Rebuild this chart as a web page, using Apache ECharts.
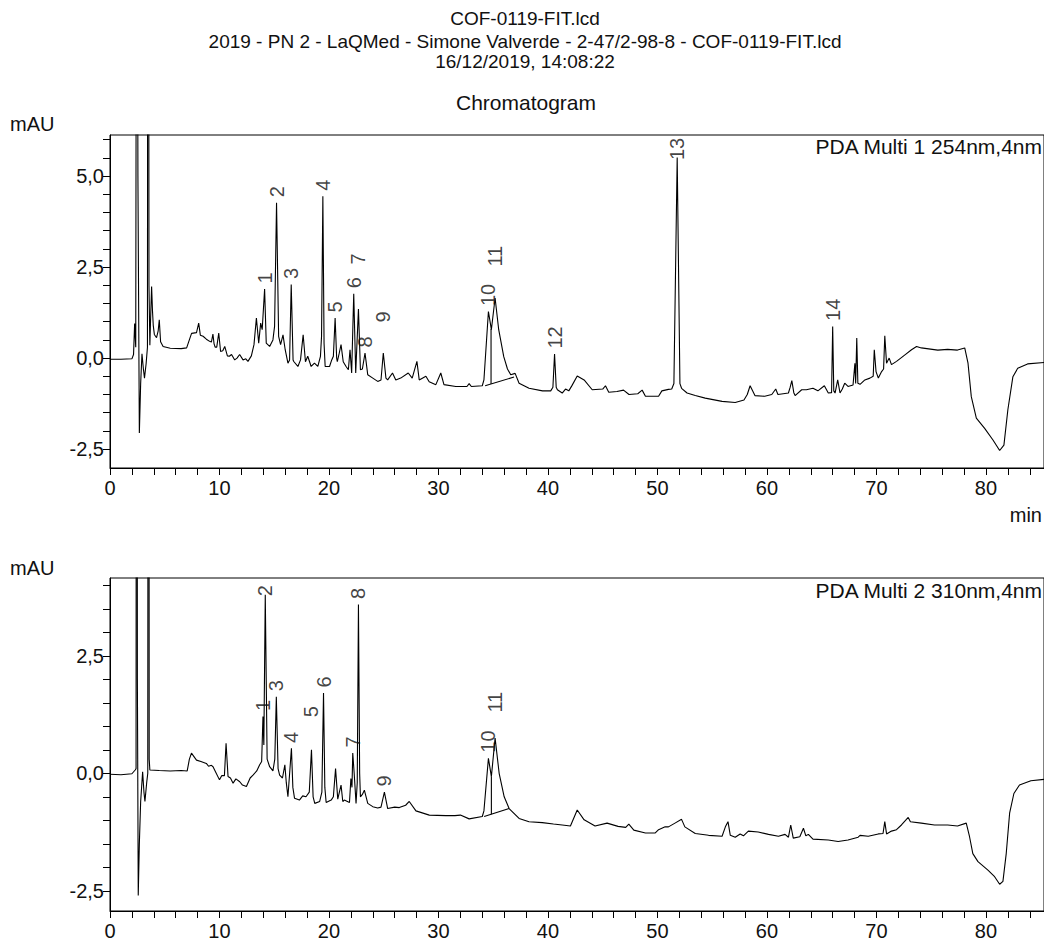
<!DOCTYPE html>
<html><head><meta charset="utf-8">
<script src="https://cdn.jsdelivr.net/npm/echarts@6/dist/echarts.min.js"></script>
<style>html,body{margin:0;padding:0;background:#fff}#c{width:1044px;height:944px}</style>
</head><body><div id="c"></div>
<script>
const titleLines = ['COF-0119-FIT.lcd', '2019 - PN 2 - LaQMed - Simone Valverde - 2-47/2-98-8 - COF-0119-FIT.lcd', '16/12/2019, 14:08:22'];
const subTitle = 'Chromatogram';
const channelNames = ['PDA Multi 1 254nm,4nm', 'PDA Multi 2 310nm,4nm'];
const yUnit = 'mAU';
const xUnit = 'min';

const xTickValues = [0,2,4,6,8,10,12,14,16,18,20,22,24,26,28,30,32,34,36,38,40,42,44,46,48,50,52,54,56,58,60,62,64,66,68,70,72,74,76,78,80,82,84];
const xLabelValues = [0,10,20,30,40,50,60,70,80];
const yTicks254 = [-2.5,-2,-1.5,-1,-0.5,0,0.5,1,1.5,2,2.5,3,3.5,4,4.5,5,5.5,6];
const yLabels254 = [-2.5,0,2.5,5];
const yTicks310 = [-2.5,-2,-1.5,-1,-0.5,0,0.5,1,1.5,2,2.5,3,3.5,4];
const yLabels310 = [-2.5,0,2.5];

const trace254 = [[0,-0.03],[1.0,-0.03],[2.0,-0.02],[2.15,0.1],[2.25,0.95],[2.35,0.3],[2.45,20],[2.55,5],[2.68,-2.06],[2.8,-0.7],[2.92,0.12],[3.05,-0.3],[3.15,-0.55],[3.3,-0.15],[3.42,0.3],[3.48,30],[3.56,2],[3.64,0.35],[3.72,1.2],[3.8,1.97],[3.88,1.3],[3.95,0.9],[4.05,0.65],[4.25,0.56],[4.4,0.75],[4.5,1.05],[4.62,0.45],[4.85,0.32],[5.5,0.27],[6.5,0.26],[7.0,0.28],[7.3,0.55],[7.45,0.68],[7.9,0.7],[8.1,0.96],[8.25,0.63],[8.5,0.6],[8.8,0.52],[9.1,0.46],[9.26,0.44],[9.4,0.66],[9.5,0.4],[9.6,0.3],[9.75,0.3],[9.93,0.69],[10.1,0.18],[10.3,0.2],[10.48,0.32],[10.72,0.06],[10.9,0.05],[11.1,0.1],[11.39,-0.05],[11.6,0.0],[11.84,0.1],[12.15,-0.05],[12.4,-0.02],[12.6,-0.09],[12.91,0.06],[13.15,0.37],[13.37,1.1],[13.58,0.41],[13.76,0.96],[13.9,0.78],[14.12,1.9],[14.27,0.41],[14.58,0.32],[14.88,0.5],[15.03,0.87],[15.21,4.27],[15.4,0.6],[15.58,0.37],[15.8,0.64],[16.0,0.23],[16.25,-0.14],[16.4,-0.05],[16.55,2.02],[16.72,-0.05],[16.8,-0.1],[17.16,-0.23],[17.4,-0.05],[17.64,0.64],[17.85,-0.1],[18.06,0.05],[18.37,-0.23],[18.67,-0.14],[18.98,-0.23],[19.22,0.05],[19.32,0.6],[19.44,4.45],[19.55,0.4],[19.65,-0.23],[20.05,-0.23],[20.25,-0.05],[20.4,0.05],[20.56,1.1],[20.7,0.0],[20.76,-0.1],[20.94,0.14],[21.1,0.37],[21.3,-0.1],[21.56,-0.23],[21.77,-0.32],[21.92,0.23],[22.07,-0.41],[22.26,1.77],[22.44,-0.41],[22.69,1.35],[22.87,-0.32],[23.05,-0.3],[23.29,0.14],[23.54,-0.46],[24.0,-0.55],[24.45,-0.64],[24.75,-0.6],[24.96,0.14],[25.2,-0.55],[25.36,-0.6],[25.8,-0.41],[26.1,-0.6],[26.55,-0.55],[27.24,-0.41],[27.6,-0.55],[28.03,-0.09],[28.24,-0.6],[28.85,-0.5],[29.15,-0.65],[29.76,-0.73],[30.21,-0.41],[30.5,-0.73],[31.58,-0.78],[32.6,-0.78],[32.8,-0.7],[33.0,-0.78],[34.0,-0.76],[34.15,-0.6],[34.56,1.28],[34.83,0.78],[35.17,1.65],[35.5,0.78],[35.96,0.04],[36.3,-0.3],[36.6,-0.46],[37.0,-0.42],[37.36,-0.69],[38.27,-0.83],[39.5,-0.9],[40.25,-0.9],[40.45,-0.8],[40.6,0.11],[40.75,-0.8],[40.86,-0.87],[41.3,-0.96],[41.6,-0.85],[41.9,-0.9],[42.2,-0.75],[42.67,-0.49],[43.3,-0.6],[44.04,-0.87],[45.0,-0.85],[45.25,-0.76],[45.55,-0.94],[46.3,-0.92],[46.9,-0.88],[47.4,-1.0],[48.2,-0.98],[48.6,-0.88],[48.9,-1.05],[50.1,-1.05],[50.4,-0.9],[51.0,-0.86],[51.3,-0.85],[51.5,-0.7],[51.8,5.51],[52.05,-0.7],[52.2,-0.83],[52.7,-0.96],[53.45,-1.03],[54.36,-1.1],[55.9,-1.19],[57.1,-1.22],[57.9,-1.15],[58.2,-1.0],[58.46,-0.76],[58.9,-1.03],[59.8,-1.05],[60.44,-1.0],[60.8,-0.85],[61.0,-1.0],[61.96,-0.96],[62.12,-0.8],[62.27,-0.62],[62.45,-0.95],[62.57,-1.03],[63.17,-0.87],[63.6,-0.87],[64.2,-0.83],[64.65,-0.9],[65.24,-0.76],[65.6,-0.96],[65.9,-0.95],[66.0,0.87],[66.1,-0.9],[66.22,-0.96],[66.46,-0.6],[66.67,-0.96],[66.88,-0.85],[67.1,-0.69],[67.4,-0.78],[67.86,-0.74],[68.03,-0.14],[68.1,-0.7],[68.2,0.55],[68.3,-0.69],[68.5,-0.72],[68.94,-0.6],[69.4,-0.55],[69.7,-0.5],[69.8,0.23],[69.96,-0.37],[70.17,-0.55],[70.47,-0.37],[70.65,-0.3],[70.76,0.61],[70.92,-0.14],[71.16,0.0],[71.37,-0.18],[71.83,-0.09],[72.6,0.09],[73.2,0.23],[73.66,0.32],[74.1,0.28],[75.6,0.22],[76.5,0.24],[77.4,0.22],[78.06,0.28],[78.36,-0.14],[78.66,-1.06],[79.12,-1.65],[79.88,-1.93],[80.64,-2.25],[81.25,-2.54],[81.64,-2.39],[82.0,-1.42],[82.46,-0.51],[82.9,-0.28],[83.8,-0.16],[85.3,-0.12]];

const trace310 = [[0,-0.02],[1.0,-0.03],[2.0,-0.01],[2.3,0.07],[2.38,0.1],[2.43,30],[2.5,2],[2.58,-2.6],[2.68,-1.5],[2.8,-0.6],[2.98,0.03],[3.1,-0.4],[3.19,-0.6],[3.35,-0.2],[3.45,0.0],[3.52,30],[3.58,0.3],[3.64,0.07],[4.5,0.06],[5.5,0.05],[6.5,0.06],[7.05,0.05],[7.25,0.3],[7.44,0.43],[7.9,0.28],[8.3,0.25],[8.8,0.21],[9.0,0.15],[9.26,0.17],[9.41,0.14],[9.6,0.05],[10.0,-0.14],[10.2,-0.05],[10.45,-0.05],[10.6,0.64],[10.78,-0.07],[11.0,-0.1],[11.24,-0.21],[11.5,-0.12],[11.85,-0.18],[12.1,-0.25],[12.46,-0.28],[12.8,-0.1],[13.06,-0.04],[13.4,0.05],[13.67,0.18],[13.85,0.25],[13.97,1.21],[14.05,0.6],[14.18,3.8],[14.35,0.3],[14.58,0.14],[14.88,0.05],[15.05,0.3],[15.19,1.63],[15.35,0.1],[15.49,-0.04],[15.75,-0.1],[15.97,0.18],[16.1,-0.2],[16.25,-0.5],[16.57,0.53],[16.7,-0.3],[16.85,-0.53],[17.3,-0.57],[17.6,-0.48],[17.9,-0.5],[18.2,-0.4],[18.4,0.5],[18.55,-0.5],[18.7,-0.64],[19.15,-0.6],[19.35,-0.4],[19.5,1.71],[19.62,-0.3],[19.74,-0.62],[20.2,-0.57],[20.4,-0.5],[20.6,0.1],[20.8,-0.55],[21.1,-0.25],[21.26,-0.6],[21.4,-0.57],[21.87,-0.62],[22.0,-0.11],[22.1,-0.3],[22.17,0.43],[22.3,0.0],[22.47,-0.64],[22.58,-0.2],[22.69,3.59],[22.8,0.0],[22.87,-0.5],[23.05,-0.45],[23.23,-0.36],[23.54,-0.64],[24.0,-0.71],[24.45,-0.74],[24.75,-0.72],[25.06,-0.4],[25.36,-0.75],[26.0,-0.72],[26.42,-0.73],[27.0,-0.68],[27.33,-0.6],[27.94,-0.8],[29.16,-0.89],[30.67,-0.9],[31.5,-0.9],[32.0,-0.89],[32.8,-0.97],[34.0,-0.92],[34.15,-0.8],[34.56,0.32],[34.83,-0.07],[35.17,0.75],[35.54,0.0],[36.0,-0.5],[36.45,-0.75],[37.36,-0.96],[38.27,-1.03],[39.48,-1.05],[40.5,-1.08],[41.3,-1.1],[42.05,-1.12],[42.67,-0.78],[43.3,-0.99],[44.3,-1.12],[45.4,-1.06],[46.4,-1.13],[47.1,-1.15],[47.38,-1.08],[47.84,-1.21],[48.9,-1.27],[49.8,-1.27],[50.1,-1.2],[50.7,-1.14],[51.0,-1.14],[51.6,-1.06],[52.2,-0.98],[52.5,-1.14],[53.45,-1.28],[54.67,-1.32],[55.9,-1.34],[56.2,-1.14],[56.44,-1.03],[56.65,-1.32],[57.1,-1.36],[57.55,-1.29],[57.85,-1.33],[58.3,-1.23],[59.2,-1.25],[60.14,-1.3],[61.05,-1.34],[61.65,-1.3],[61.96,-1.36],[62.17,-1.1],[62.4,-1.38],[63.0,-1.35],[63.33,-1.17],[63.55,-1.33],[63.78,-1.3],[64.2,-1.4],[65.6,-1.42],[66.5,-1.45],[67.4,-1.42],[68.33,-1.36],[68.5,-1.32],[69.25,-1.34],[70.17,-1.29],[70.6,-1.28],[70.76,-1.03],[70.92,-1.29],[71.37,-1.23],[71.83,-1.2],[72.28,-1.1],[72.9,-0.94],[73.1,-1.03],[74.1,-1.06],[75.3,-1.1],[76.5,-1.1],[77.4,-1.12],[78.2,-1.06],[78.5,-1.35],[78.8,-1.71],[79.27,-1.88],[80.18,-2.06],[80.79,-2.2],[81.25,-2.36],[81.55,-2.3],[81.85,-1.71],[82.16,-0.85],[82.55,-0.43],[83.06,-0.25],[84.1,-0.16],[85.3,-0.13]];

const baseline254 = [[34.26,-0.76],[36.9,-0.52]];
const drop254 = [[34.8,0.8],[34.8,-0.71]];
const baseline310 = [[34.17,-0.92],[36.45,-0.75]];
const drop310 = [[34.83,-0.07],[34.83,-0.87]];

const peakNames254 = ['1','2','3','4','5','6','7','8','9','10','11','12','13','14'];
const peakTimes254 = [14.12,15.21,16.55,19.44,20.56,22.26,22.69,23.29,24.96,34.56,35.17,40.6,51.8,66.0];
const peakNames310 = ['1','2','3','4','5','6','7','8','9','10','11'];
const peakTimes310 = [13.97,14.18,15.19,16.57,18.4,19.5,22.17,22.69,25.06,34.56,35.17];

const FONT = '"Liberation Sans", Arial, sans-serif';
const TXT = '#111';

function valueAt(trace, t) {
  let best = trace[0];
  for (const p of trace) if (Math.abs(p[0] - t) < Math.abs(best[0] - t)) best = p;
  return best[1];
}
const fmtY = v => v.toFixed(1).replace('.', ',').replace('-0,0', '0,0');

function makeX(gi) {
  return {
    type: 'value', gridIndex: gi, min: 0, max: 85.3,
    axisLine: { show: true, onZero: false, lineStyle: { color: '#000', width: 1 } },
    axisTick: { show: true, length: 7, inside: false, lineStyle: { color: '#000' }, customValues: xTickValues },
    axisLabel: { show: true, customValues: xLabelValues, formatter: v => String(Math.round(v)), fontSize: 20, color: TXT, fontFamily: FONT, margin: 10 },
    splitLine: { show: false }
  };
}
function makeY(gi, min, max, ticks, labels) {
  return {
    type: 'value', gridIndex: gi, min: min, max: max,
    axisLine: { show: true, onZero: false, lineStyle: { color: '#000', width: 1 } },
    axisTick: { show: true, length: 7, inside: false, lineStyle: { color: '#000' }, customValues: ticks },
    axisLabel: { show: true, customValues: labels, formatter: fmtY, fontSize: 20, color: TXT, fontFamily: FONT, margin: 6 },
    splitLine: { show: false }
  };
}
function lineS(gi, data, z) {
  return { type: 'line', xAxisIndex: gi, yAxisIndex: gi, data: data, showSymbol: false, symbol: 'none',
    lineStyle: { color: '#000', width: 1.1 }, animation: false, silent: true, clip: true, z: z || 2 };
}
function peakS(gi, names, times, trace, dist) {
  return {
    type: 'scatter', xAxisIndex: gi, yAxisIndex: gi, symbol: 'circle', symbolSize: 1,
    itemStyle: { color: 'rgba(0,0,0,0)' }, silent: true, animation: false, z: 5,
    data: names.map((n, i) => ({ name: n, value: [times[i], valueAt(trace, times[i])],
      label: { distance: (dist[n] !== undefined ? dist[n] : 5) } })),
    label: { show: true, formatter: '{b}', position: 'top', rotate: 90, align: 'left', verticalAlign: 'middle',
      fontSize: 20, color: TXT, fontFamily: FONT }
  };
}

const chart = echarts.init(document.getElementById('c'), null, { renderer: 'svg', width: 1044, height: 944 });
const textStyle = (s, size, align) => ({ text: s, fontSize: size, fill: TXT, fontFamily: FONT, align: align || 'center', verticalAlign: 'middle' });

chart.setOption({
  animation: false,
  backgroundColor: '#fff',
  grid: [
    { left: 110, top: 135, width: 936, height: 333, show: true, borderColor: '#000', borderWidth: 1, backgroundColor: 'transparent' },
    { left: 110, top: 578, width: 936, height: 333, show: true, borderColor: '#000', borderWidth: 1, backgroundColor: 'transparent' }
  ],
  xAxis: [makeX(0), makeX(1)],
  yAxis: [makeY(0, -3.02, 6.13, yTicks254, yLabels254), makeY(1, -2.93, 4.155, yTicks310, yLabels310)],
  series: [
    lineS(0, trace254), lineS(0, baseline254), lineS(0, drop254),
    lineS(1, trace310), lineS(1, baseline310), lineS(1, drop310),
    peakS(0, peakNames254, peakTimes254, trace254, { '7': 44, '9': 30, '11': 31, '13': -3 }),
    peakS(1, peakNames310, peakTimes310, trace310, { '2': -2, '5': 32, '11': 25 })
  ],
  graphic: [
    { type: 'text', x: 525, y: 18, style: textStyle(titleLines[0], 19) },
    { type: 'text', x: 525, y: 41, style: textStyle(titleLines[1], 19) },
    { type: 'text', x: 525, y: 61, style: textStyle(titleLines[2], 19) },
    { type: 'text', x: 526, y: 102, style: textStyle(subTitle, 21) },
    { type: 'text', x: 10, y: 124, style: textStyle(yUnit, 20, 'left') },
    { type: 'text', x: 10, y: 568, style: textStyle(yUnit, 20, 'left') },
    { type: 'text', x: 1042, y: 146, style: textStyle(channelNames[0], 21, 'right') },
    { type: 'text', x: 1042, y: 590, style: textStyle(channelNames[1], 21, 'right') },
    { type: 'text', x: 1042, y: 515, style: textStyle(xUnit, 20, 'right') }
  ]
});
</script></body></html>
